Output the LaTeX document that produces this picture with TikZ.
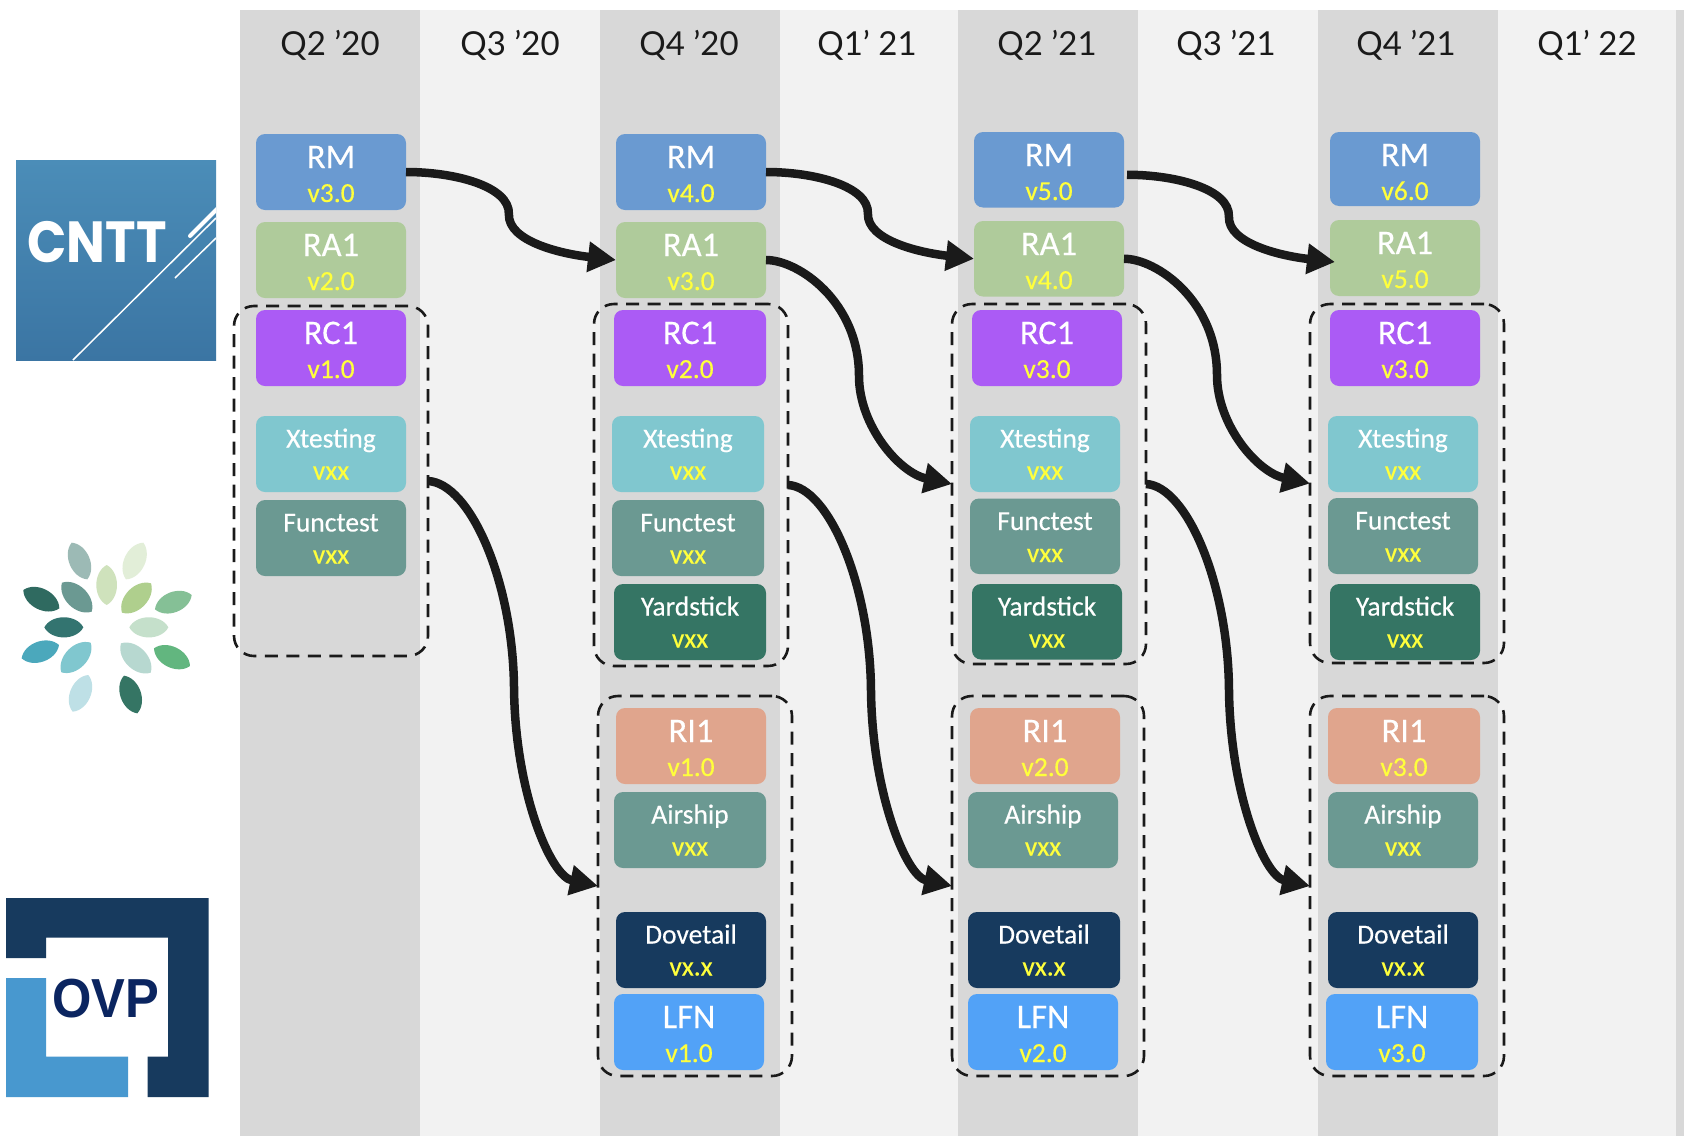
\documentclass[tikz,border=0pt]{standalone}
\usepackage{fontspec}
\setmainfont{Carlito}[FakeBold=0.35]
\newfontfamily\hdrfont{Lato}
\newfontfamily\cnttfont{Poppins}
\newfontfamily\ovpfont{Liberation Sans}
\usetikzlibrary{arrows.meta,calc}
\definecolor{bandD}{HTML}{D8D8D8}
\definecolor{bandL}{HTML}{F2F2F2}
\definecolor{ink}{HTML}{1A1A1A}
\definecolor{ver}{HTML}{FFFF3C}
\definecolor{cRM}{HTML}{6A9AD1}
\definecolor{cRA}{HTML}{AFCB9B}
\definecolor{cRC}{HTML}{AB5BF5}
\definecolor{cXT}{HTML}{80C7CF}
\definecolor{cFU}{HTML}{6B9992}
\definecolor{cYA}{HTML}{357564}
\definecolor{cRI}{HTML}{E0A58D}
\definecolor{cDO}{HTML}{173A5E}
\definecolor{cLF}{HTML}{52A2F7}
\definecolor{ovpL}{HTML}{4898CF}
\definecolor{ovpT}{HTML}{0B2560}
\definecolor{cnttT}{HTML}{4B8DB8}
\definecolor{cnttB}{HTML}{3B75A3}
\definecolor{lfA}{HTML}{9CBAB5}
\definecolor{lfB}{HTML}{E2EED8}
\definecolor{lfC}{HTML}{CFE2BC}
\definecolor{lfD}{HTML}{AFCF8D}
\definecolor{lfE}{HTML}{2F6A60}
\definecolor{lfF}{HTML}{85C096}
\definecolor{lfG}{HTML}{337470}
\definecolor{lfH}{HTML}{C5E0CB}
\definecolor{lfI}{HTML}{4BA8BC}
\definecolor{lfJ}{HTML}{B7D8D0}
\definecolor{lfK}{HTML}{62B67F}
\definecolor{lfL}{HTML}{BEE0E6}
\tikzset{
  tbox/.style={rounded corners=9pt,inner sep=0pt,outer sep=0pt,draw=none},
  grp/.style={draw=ink,line width=2.6pt,dash pattern=on 13pt off 8.5pt,rounded corners=20pt,inner sep=0pt,outer sep=0pt},
  flow/.style={draw=ink,line width=8.5pt,-{Triangle[length=28pt,width=29pt]}},
  hdr/.style={anchor=base,inner sep=0pt,text=ink,font=\hdrfont\fontsize{33}{33}\selectfont},
}
% name x1 y1 x2 y2 colour title version
\newcommand\bigbox[8]{%
  \pgfmathsetlengthmacro\bw{(#4-#2)*1pt}\pgfmathsetlengthmacro\bh{(#5-#3)*1pt}%
  \node[tbox,fill=#6,minimum width=\bw,minimum height=\bh] (#1) at ({(#2+#4)/2},{(#3+#5)/2})
  {\vbox to \bh{\offinterlineskip
    \hbox to \bw{\hss\rule{0pt}{34pt}\smash{\fontsize{34.5}{34}\selectfont\color{white}#7}\hss}
    \hbox to \bw{\hss\rule{0pt}{34pt}\smash{\fontsize{27.5}{27}\selectfont\color{ver}#8}\hss}\vss}};}
\newcommand\smallbox[8]{%
  \pgfmathsetlengthmacro\bw{(#4-#2)*1pt}\pgfmathsetlengthmacro\bh{(#5-#3)*1pt}%
  \node[tbox,fill=#6,minimum width=\bw,minimum height=\bh] (#1) at ({(#2+#4)/2},{(#3+#5)/2})
  {\vbox to \bh{\offinterlineskip
    \hbox to \bw{\hss\rule{0pt}{31.5pt}\smash{\fontsize{27.5}{27}\selectfont\color{white}#7}\hss}
    \hbox to \bw{\hss\rule{0pt}{32pt}\smash{\fontsize{27.5}{27}\selectfont\color{ver}#8}\hss}\vss}};}
\newcommand\grpbox[5]{%
  \node[grp,minimum width={(#4-#2)*1pt},minimum height={(#5-#3)*1pt}] (#1) at ({(#2+#4)/2},{(#3+#5)/2}) {};}
% S-curve between two anchors, control points as fractions of the span
\newcommand\scurve[2]{\draw[flow] let \p1=(#1),\p2=(#2) in
  (\p1) .. controls ({\x1+\ua*(\x2-\x1)},{\y1+\va*(\y2-\y1)}) and ({\x1+\ub*(\x2-\x1)},{\y1+\vb*(\y2-\y1)})
  .. ({\x1+\um*(\x2-\x1)},{\y1+\vm*(\y2-\y1)})
  .. controls ({\x1+\uc*(\x2-\x1)},{\y1+\vc*(\y2-\y1)}) and ({\x1+\ud*(\x2-\x1)},{\y1+\vd*(\y2-\y1)}) .. (\p2);}
\newcommand\flowA[2]{\def\ua{.23}\def\va{0}\def\ub{.495}\def\vb{.16}\def\um{.49}\def\vm{.48}\def\uc{.485}\def\vc{.79}\def\ud{.74}\def\vd{.93}\scurve{#1}{#2}}
\newcommand\flowB[2]{\def\ua{.174}\def\va{0}\def\ub{.5}\def\vb{.186}\def\um{.5}\def\vm{.518}\def\uc{.5}\def\vc{.74}\def\ud{.717}\def\vd{.95}\scurve{#1}{#2}}
\newcommand\flowC[2]{\def\ua{.247}\def\va{.005}\def\ub{.5}\def\vb{.247}\def\um{.506}\def\vm{.511}\def\uc{.512}\def\vc{.765}\def\ud{.718}\def\vd{.975}\scurve{#1}{#2}}
\newcommand\leaf[5]{\fill[#5] (#1,#2) to[bend left=62] (#3,#4) to[bend left=62] (#1,#2) -- cycle;}
\begin{document}
\begin{tikzpicture}[x=1pt,y=-1pt]
\useasboundingbox (0,0) rectangle (1684,1138);
\fill[white] (0,0) rectangle (1684,1138);
% bands
\fill[bandD] (240,10) rectangle (420,1136);
\fill[bandL] (420,10) rectangle (600,1136);
\fill[bandD] (600,10) rectangle (780,1136);
\fill[bandL] (780,10) rectangle (958,1136);
\fill[bandD] (958,10) rectangle (1138,1136);
\fill[bandL] (1138,10) rectangle (1318,1136);
\fill[bandD] (1318,10) rectangle (1498,1136);
\fill[bandL] (1498,10) rectangle (1676,1136);
\fill[bandD] (1676,10) rectangle (1684,1136);
% headers
\node[hdr] (h1) at (330,55) {Q2 ’20};
\node[hdr] (h2) at (510,55) {Q3 ’20};
\node[hdr] (h3) at (689,55) {Q4 ’20};
\node[hdr] (h4) at (867,55) {Q1’ 21};
\node[hdr] (h5) at (1047,55) {Q2 ’21};
\node[hdr] (h6) at (1226,55) {Q3 ’21};
\node[hdr] (h7) at (1406,55) {Q4 ’21};
\node[hdr] (h8) at (1587,55) {Q1’ 22};
% CNTT logo
\begin{scope}
\clip (16,160) rectangle (216,360);
\shade[top color=cnttT,bottom color=cnttB] (16,160) rectangle (216,360);
\draw[white,line width=1.5pt] (73,360) -- (216,218);
\draw[white,line width=1.5pt] (175,278) -- (216,238);
\draw[white,line width=4pt,line cap=round] (190,236) -- (220,206);
\end{scope}
\node[anchor=base,inner sep=0pt,text=white,xscale=.89,transform shape,font=\cnttfont\bfseries\fontsize{58}{58}\selectfont] (cntt) at (97,262) {CNTT};
% flower logo
\begin{scope}[shift={(0,520)},x=.33333pt,y=-.33333pt]
\leaf{215}{68}{262}{178}{lfA}
\leaf{430}{68}{378}{178}{lfB}
\leaf{320}{135}{320}{255}{lfC}
\leaf{186}{188}{275}{275}{cFU}
\leaf{453}{190}{366}{278}{lfD}
\leaf{70}{210}{178}{265}{lfE}
\leaf{575}{225}{465}{268}{lfF}
\leaf{133}{322}{250}{322}{lfG}
\leaf{388}{322}{505}{322}{lfH}
\leaf{65}{415}{177}{375}{lfI}
\leaf{272}{368}{184}{457}{cXT}
\leaf{363}{370}{452}{458}{lfJ}
\leaf{462}{385}{570}{438}{lfK}
\leaf{265}{465}{218}{575}{lfL}
\leaf{372}{467}{412}{580}{cYA}
\end{scope}
% OVP logo
\fill[cDO] (6,898) -- (208.5,898) -- (208.5,1097) -- (147.5,1097) -- (147.5,1056.7) -- (168,1056.7) -- (168,937.7) -- (46,937.7) -- (46,958) -- (6,958) -- cycle;
\fill[ovpL] (6,978) -- (46,978) -- (46,1056.7) -- (128,1056.7) -- (128,1097) -- (6,1097) -- cycle;
\node[anchor=base,inner sep=0pt,text=ovpT,xscale=.92,transform shape,font=\ovpfont\bfseries\fontsize{55}{55}\selectfont] (ovp) at (105.5,1017) {OVP};
% column Q2 '20
\bigbox{rm1}{256}{134}{406}{210}{cRM}{RM}{v3.0}
\bigbox{ra1}{256}{222}{406}{298}{cRA}{RA1}{v2.0}
\bigbox{rc1}{256}{310}{406}{386}{cRC}{RC1}{v1.0}
\smallbox{xt1}{256}{416}{406}{492}{cXT}{Xtesting}{vxx}
\smallbox{fu1}{256}{500}{406}{576}{cFU}{Functest}{vxx}
% column Q4 '20
\bigbox{rm3}{616}{134}{766}{210}{cRM}{RM}{v4.0}
\bigbox{ra3}{616}{222}{766}{298}{cRA}{RA1}{v3.0}
\bigbox{rc3}{614}{310}{766}{386}{cRC}{RC1}{v2.0}
\smallbox{xt3}{612}{416}{764}{492}{cXT}{Xtesting}{vxx}
\smallbox{fu3}{612}{500}{764}{576}{cFU}{Functest}{vxx}
\smallbox{ya3}{614}{584}{766}{660}{cYA}{Yardstick}{vxx}
\bigbox{ri3}{616}{708}{766}{784}{cRI}{RI1}{v1.0}
\smallbox{ai3}{614}{792}{766}{868}{cFU}{Airship}{vxx}
\smallbox{do3}{616}{912}{766}{988}{cDO}{Dovetail}{vx.x}
\bigbox{lf3}{614}{994}{764}{1070}{cLF}{LFN}{v1.0}
% column Q2 '21
\bigbox{rm5}{974}{132}{1124}{207.5}{cRM}{RM}{v5.0}
\bigbox{ra5}{974}{221}{1124}{296.5}{cRA}{RA1}{v4.0}
\bigbox{rc5}{972}{310}{1122}{386}{cRC}{RC1}{v3.0}
\smallbox{xt5}{970}{416}{1120}{492}{cXT}{Xtesting}{vxx}
\smallbox{fu5}{970}{498.5}{1120}{574}{cFU}{Functest}{vxx}
\smallbox{ya5}{972}{584}{1122}{659.5}{cYA}{Yardstick}{vxx}
\bigbox{ri5}{970}{708}{1120}{784}{cRI}{RI1}{v2.0}
\smallbox{ai5}{968}{792}{1118}{868}{cFU}{Airship}{vxx}
\smallbox{do5}{968}{912}{1120}{988}{cDO}{Dovetail}{vx.x}
\bigbox{lf5}{968}{994}{1118}{1070}{cLF}{LFN}{v2.0}
% column Q4 '21
\bigbox{rm7}{1330}{132}{1480}{206}{cRM}{RM}{v6.0}
\bigbox{ra7}{1330}{220}{1480}{296}{cRA}{RA1}{v5.0}
\bigbox{rc7}{1330}{310}{1480}{386}{cRC}{RC1}{v3.0}
\smallbox{xt7}{1328}{416}{1478}{492}{cXT}{Xtesting}{vxx}
\smallbox{fu7}{1328}{498}{1478}{574}{cFU}{Functest}{vxx}
\smallbox{ya7}{1330}{584}{1480}{660}{cYA}{Yardstick}{vxx}
\bigbox{ri7}{1328}{708}{1480}{784}{cRI}{RI1}{v3.0}
\smallbox{ai7}{1328}{792}{1478}{868}{cFU}{Airship}{vxx}
\smallbox{do7}{1328}{912}{1478}{988}{cDO}{Dovetail}{vx.x}
\bigbox{lf7}{1326}{994}{1478}{1070}{cLF}{LFN}{v3.0}
% dashed groups
\grpbox{g1}{234}{306}{428}{656}
\grpbox{g3}{594}{304}{788}{666}
\grpbox{k3}{598}{696}{792}{1076}
\grpbox{g5}{952}{304}{1146}{664}
\grpbox{k5}{952}{696}{1144}{1076}
\grpbox{g7}{1310}{304}{1504}{663}
\grpbox{k7}{1310}{696}{1504}{1076}
% connectors
\flowA{rm1.east}{ra3.west}
\flowA{rm3.east}{ra5.west}
\flowA{$(rm5.east)+(3,5)$}{$(ra7.west)+(5,4)$}
\flowB{ra3.east}{g5.west}
\flowB{ra5.east}{g7.west}
\flowC{g1.east}{k3.west}
\flowC{g3.east}{k5.west}
\flowC{g5.east}{k7.west}
\end{tikzpicture}
\end{document}
